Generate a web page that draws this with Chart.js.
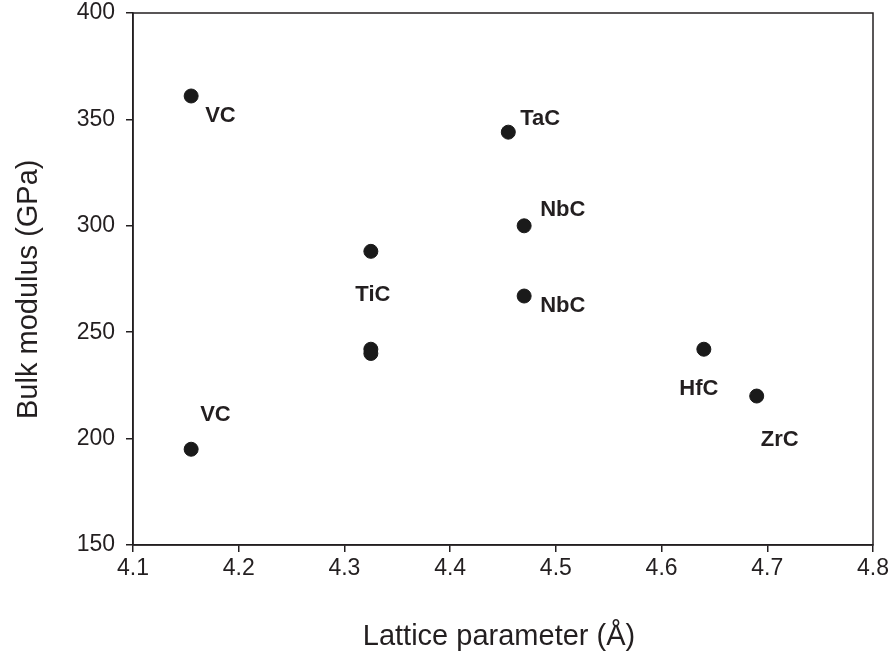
<!DOCTYPE html>
<html>
<head>
<meta charset="utf-8">
<script src="https://cdn.jsdelivr.net/npm/chart.js@4.4.1/dist/chart.umd.min.js"></script>
<style>
  html, body { margin: 0; padding: 0; background: #fff; }
  #wrap { width: 890px; height: 656px; }
</style>
</head>
<body>
<div id="wrap"><canvas id="c"></canvas></div>
<script>
/* data */
const latticeA = [4.155, 4.155, 4.325, 4.325, 4.325, 4.455, 4.47, 4.47, 4.64, 4.69];
const bulkGPa  = [361, 195, 288, 242, 240, 344, 300, 267, 242, 220];
const pointNames = ['VC', 'VC', 'TiC', '', '', 'TaC', 'NbC', 'NbC', 'HfC', 'ZrC'];
const xTicks = [4.1, 4.2, 4.3, 4.4, 4.5, 4.6, 4.7, 4.8];
const yTicks = [150, 200, 250, 300, 350, 400];
const xTitle = 'Lattice parameter (Å)';
const yTitle = 'Bulk modulus (GPa)';

/* label placement relative to each point: [dx, dy, align] */
const labelPos = [
  [14, 26, 'left'], [9, -28, 'left'], [2, 50, 'center'], null, null,
  [12, -7, 'left'], [16, -10, 'left'], [16, 16, 'left'], [-5, 46, 'center'], [4, 50, 'left']
];

const INK = '#231f20';
const FONT = '"Liberation Sans", Arial, Helvetica, sans-serif';

Chart.defaults.font.family = FONT;
Chart.defaults.color = INK;

const decor = {
  id: 'decor',
  afterDraw(chart) {
    const { ctx, chartArea: a } = chart;
    ctx.save();
    // closed frame
    ctx.strokeStyle = INK;
    ctx.lineWidth = 1.5;
    ctx.strokeRect(a.left, a.top, a.right - a.left, a.bottom - a.top);

    // point labels
    const meta = chart.getDatasetMeta(0);
    ctx.fillStyle = INK;
    ctx.font = 'bold 22px ' + FONT;
    ctx.textBaseline = 'alphabetic';
    meta.data.forEach((pt, i) => {
      const p = labelPos[i];
      if (!p || !pointNames[i]) return;
      ctx.textAlign = p[2];
      ctx.fillText(pointNames[i], pt.x + p[0], pt.y + p[1]);
    });

    // axis titles
    ctx.font = '29px ' + FONT;
    ctx.textAlign = 'center';
    ctx.fillText(xTitle, 499, 645);
    ctx.translate(37, 419);
    ctx.rotate(-Math.PI / 2);
    ctx.textAlign = 'left';
    ctx.fillText(yTitle, 0, 0);
    ctx.restore();
  }
};

new Chart(document.getElementById('c'), {
  type: 'scatter',
  data: {
    datasets: [{
      data: latticeA.map((x, i) => ({ x, y: bulkGPa[i] })),
      backgroundColor: '#1a1a1a',
      borderColor: '#1a1a1a',
      pointRadius: 7,
      pointHoverRadius: 7
    }]
  },
  options: {
    responsive: true,
    maintainAspectRatio: false,
    animation: false,
    layout: { padding: { top: 13, right: 17, left: 0, bottom: 0 } },
    plugins: { legend: { display: false }, tooltip: { enabled: false } },
    scales: {
      x: {
        type: 'linear', min: 4.1, max: 4.8,
        afterBuildTicks: s => { s.ticks = xTicks.map(v => ({ value: v })); },
        afterFit: s => { s.height = 111; s.paddingLeft = 0; s.paddingRight = 0; },
        ticks: { font: { size: 23 }, color: INK, padding: 3, maxRotation: 0,
                 callback: v => v.toFixed(1) },
        grid: { drawOnChartArea: false, drawTicks: true, tickLength: 7, color: INK, lineWidth: 1.5 },
        border: { display: true, color: INK, width: 1.5 }
      },
      y: {
        min: 150, max: 400,
        afterBuildTicks: s => { s.ticks = yTicks.map(v => ({ value: v })); },
        afterFit: s => { s.width = 133; s.paddingTop = 0; s.paddingBottom = 0; },
        ticks: { font: { size: 23 }, color: INK, padding: 11 },
        grid: { drawOnChartArea: false, drawTicks: true, tickLength: 7, color: INK, lineWidth: 1.5 },
        border: { display: true, color: INK, width: 1.5 }
      }
    }
  },
  plugins: [decor]
});
</script>
</body>
</html>
